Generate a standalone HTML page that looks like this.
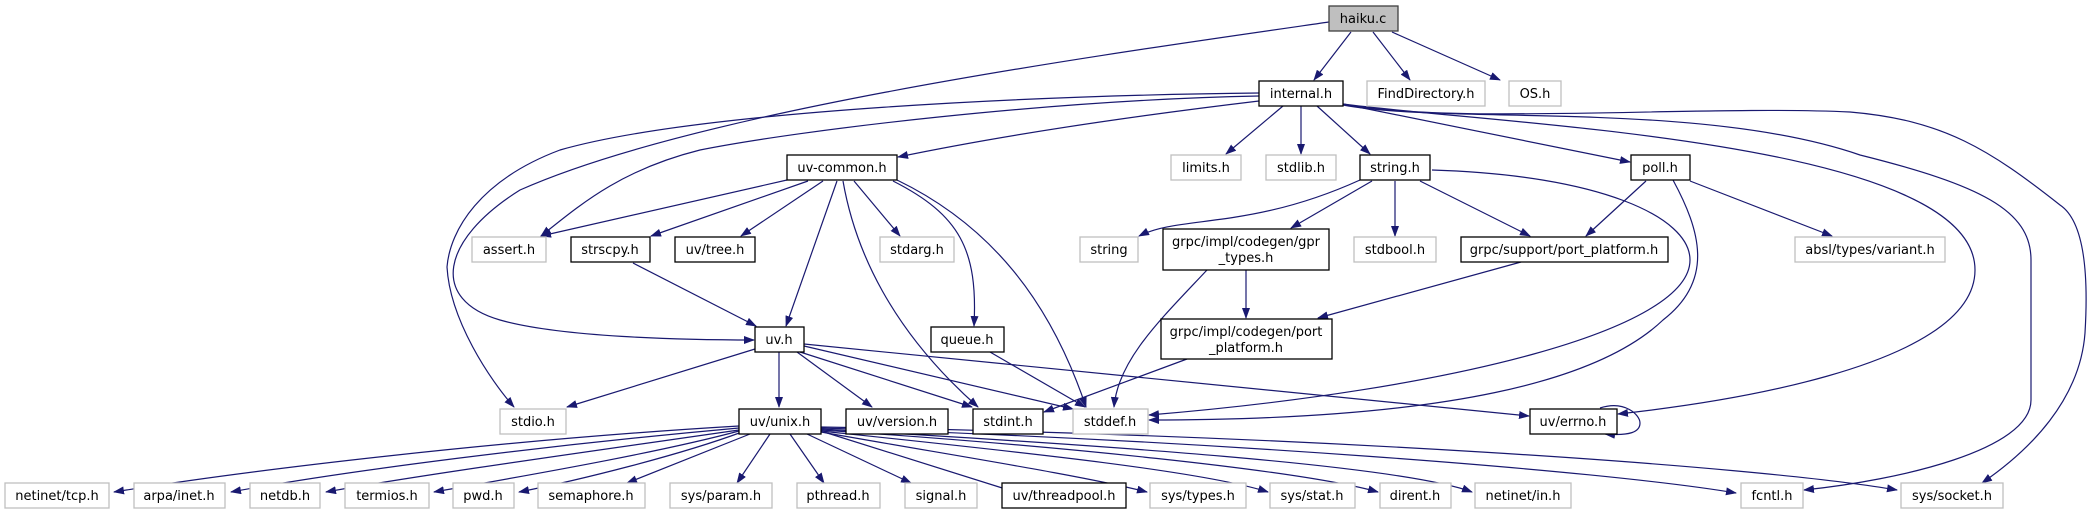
<!DOCTYPE html>
<html><head><meta charset="utf-8"><style>
html,body{margin:0;padding:0;background:#fff;}
svg{display:block;}
text{font-family:"DejaVu Sans","Liberation Sans",sans-serif;font-size:13px;fill:#000;text-anchor:middle;}
.e{fill:none;stroke:#191970;stroke-width:1.2;marker-end:url(#a);}
.g{fill:#fff;stroke:#bfbfbf;stroke-width:1.3;}
.b{fill:#fff;stroke:#000;stroke-width:1.3;}
</style></head><body>
<svg width="2091" height="515" viewBox="0 0 2091 515" xmlns="http://www.w3.org/2000/svg">
<defs><marker id="a" markerWidth="11" markerHeight="8" refX="10" refY="4" orient="auto" markerUnits="userSpaceOnUse"><path d="M0,0 L11,4 L0,8 z" fill="#191970"/></marker></defs>
<!-- edges -->
<path class="e" d="M1351,32 L1314,80"/>
<path class="e" d="M1373,32 L1410,80"/>
<path class="e" d="M1392,32 L1500,80"/>
<path class="e" d="M1329,22 C1100,55 700,110 520,190 C440,240 430,300 500,320 C560,337 680,340 754,340"/>
<path class="e" d="M1259,101 C1100,120 980,140 898,157"/>
<path class="e" d="M1259,96 C1050,100 800,130 700,150 C620,170 580,205 541,236"/>
<path class="e" d="M1259,93 C1050,95 700,110 560,150 C480,180 450,230 447,267 C450,320 490,380 514,407"/>
<path class="e" d="M1283,106 L1226,154"/>
<path class="e" d="M1301,106 L1301,154"/>
<path class="e" d="M1317,106 L1370,154"/>
<path class="e" d="M1343,104 L1630,162"/>
<path class="e" d="M1343,104 C1500,125 1975,140 1975,270 C1975,370 1700,405 1618,414"/>
<path class="e" d="M1343,105 C1450,125 1700,100 1860,155 C1980,185 2031,210 2031,260 L2031,400 C2031,450 1900,480 1804,490"/>
<path class="e" d="M1343,104 C1450,125 1700,105 1850,112 C1944,120 1990,150 2060,205 C2090,225 2087,300 2085,333 C2080,400 2030,450 1982,483"/>
<path class="e" d="M787,180 L541,236"/>
<path class="e" d="M808,181 L651,236"/>
<path class="e" d="M823,181 L741,236"/>
<path class="e" d="M854,181 L900,236"/>
<path class="e" d="M837,181 L786,326"/>
<path class="e" d="M843,181 C855,250 891,330 978,407"/>
<path class="e" d="M893,181 C960,215 978,250 974,326"/>
<path class="e" d="M897,180 C990,225 1050,300 1086,407"/>
<path class="e" d="M633,263 L756,326"/>
<path class="e" d="M755,349 L567,407"/>
<path class="e" d="M779,352 L779,407"/>
<path class="e" d="M797,352 L872,407"/>
<path class="e" d="M800,352 L972,407"/>
<path class="e" d="M804,346 L1073,409"/>
<path class="e" d="M804,344 L1529,416"/>
<path class="e" d="M990,352 L1085,407"/>
<path class="e" d="M1360,180 C1250,230 1180,215 1139,236"/>
<path class="e" d="M1372,181 L1291,228"/>
<path class="e" d="M1395,181 L1395,236"/>
<path class="e" d="M1420,181 L1530,236"/>
<path class="e" d="M1432,170 C1600,175 1690,217 1690,260 C1690,330 1450,390 1149,415"/>
<path class="e" d="M1646,181 L1586,236"/>
<path class="e" d="M1690,181 L1832,236"/>
<path class="e" d="M1673,180 C1700,230 1715,280 1663,320 C1600,380 1450,420 1149,420"/>
<path class="e" d="M1246,270 L1246,318"/>
<path class="e" d="M1207,270 C1160,320 1118,360 1114,407"/>
<path class="e" d="M1521,262 L1318,318"/>
<path class="e" d="M1187,359 L1044,412"/>
<path class="e" d="M1600,408 C1625,400 1640,415 1640,423 C1640,432 1630,436 1605,434"/>
<path class="e" d="M739,426 C500,440 250,470 114,492"/>
<path class="e" d="M739,428 C550,445 350,470 231,492"/>
<path class="e" d="M739,430 C600,450 420,475 326,492"/>
<path class="e" d="M739,431 C650,455 500,480 434,492"/>
<path class="e" d="M742,432 C680,455 580,480 519,492"/>
<path class="e" d="M750,434 L627,483"/>
<path class="e" d="M770,434 L737,483"/>
<path class="e" d="M790,434 L824,483"/>
<path class="e" d="M807,434 L911,483"/>
<path class="e" d="M824,432 L1015,492"/>
<path class="e" d="M821,432 C950,455 1080,475 1147,492"/>
<path class="e" d="M821,431 C1000,450 1200,470 1268,492"/>
<path class="e" d="M821,430 C1050,445 1300,470 1378,492"/>
<path class="e" d="M821,429 C1100,445 1400,465 1472,492"/>
<path class="e" d="M821,428 C1200,440 1600,470 1736,493"/>
<path class="e" d="M821,427 C1300,435 1750,465 1897,490"/>
<!-- nodes -->
<rect x="1329" y="6" width="69" height="25" fill="#bfbfbf" stroke="#404040" stroke-width="1.3"/><text x="1363" y="23">haiku.c</text>
<rect class="b" x="1259" y="81" width="84" height="25"/><text x="1301" y="98">internal.h</text>
<rect class="g" x="1367" y="81" width="118" height="25"/><text x="1426" y="98">FindDirectory.h</text>
<rect class="g" x="1509" y="81" width="52" height="25"/><text x="1535" y="98">OS.h</text>
<rect class="b" x="787" y="155" width="110" height="25"/><text x="842" y="172">uv-common.h</text>
<rect class="g" x="1171" y="155" width="70" height="25"/><text x="1206" y="172">limits.h</text>
<rect class="g" x="1266" y="155" width="70" height="25"/><text x="1301" y="172">stdlib.h</text>
<rect class="b" x="1360" y="155" width="70" height="25"/><text x="1395" y="172">string.h</text>
<rect class="b" x="1631" y="155" width="59" height="25"/><text x="1660" y="172">poll.h</text>
<rect class="g" x="472" y="237" width="74" height="25"/><text x="509" y="254">assert.h</text>
<rect class="b" x="571" y="237" width="79" height="25"/><text x="610" y="254">strscpy.h</text>
<rect class="b" x="675" y="237" width="80" height="25"/><text x="715" y="254">uv/tree.h</text>
<rect class="g" x="880" y="237" width="74" height="25"/><text x="917" y="254">stdarg.h</text>
<rect class="g" x="1080" y="237" width="58" height="25"/><text x="1109" y="254">string</text>
<rect class="b" x="1163" y="229" width="166" height="41"/><text x="1246" y="246">grpc/impl/codegen/gpr</text><text x="1246" y="262">_types.h</text>
<rect class="g" x="1354" y="237" width="82" height="25"/><text x="1395" y="254">stdbool.h</text>
<rect class="b" x="1461" y="237" width="207" height="25"/><text x="1564" y="254">grpc/support/port_platform.h</text>
<rect class="g" x="1795" y="237" width="150" height="25"/><text x="1870" y="254">absl/types/variant.h</text>
<rect class="b" x="755" y="327" width="49" height="25"/><text x="779" y="344">uv.h</text>
<rect class="b" x="931" y="327" width="73" height="25"/><text x="967" y="344">queue.h</text>
<rect class="b" x="1161" y="319" width="171" height="40"/><text x="1246" y="336">grpc/impl/codegen/port</text><text x="1246" y="352">_platform.h</text>
<rect class="g" x="500" y="409" width="66" height="25"/><text x="533" y="426">stdio.h</text>
<rect class="b" x="739" y="409" width="82" height="25"/><text x="780" y="426">uv/unix.h</text>
<rect class="b" x="846" y="409" width="102" height="25"/><text x="897" y="426">uv/version.h</text>
<rect class="b" x="973" y="409" width="70" height="25"/><text x="1008" y="426">stdint.h</text>
<rect class="g" x="1073" y="409" width="75" height="25"/><text x="1110" y="426">stddef.h</text>
<rect class="b" x="1530" y="409" width="87" height="25"/><text x="1573" y="426">uv/errno.h</text>
<rect class="g" x="5" y="483" width="104" height="25"/><text x="57" y="500">netinet/tcp.h</text>
<rect class="g" x="134" y="483" width="91" height="25"/><text x="179" y="500">arpa/inet.h</text>
<rect class="g" x="250" y="483" width="70" height="25"/><text x="285" y="500">netdb.h</text>
<rect class="g" x="345" y="483" width="84" height="25"/><text x="387" y="500">termios.h</text>
<rect class="g" x="453" y="483" width="61" height="25"/><text x="483" y="500">pwd.h</text>
<rect class="g" x="538" y="483" width="107" height="25"/><text x="591" y="500">semaphore.h</text>
<rect class="g" x="670" y="483" width="102" height="25"/><text x="721" y="500">sys/param.h</text>
<rect class="g" x="797" y="483" width="83" height="25"/><text x="838" y="500">pthread.h</text>
<rect class="g" x="905" y="483" width="72" height="25"/><text x="941" y="500">signal.h</text>
<rect class="b" x="1002" y="483" width="124" height="25"/><text x="1064" y="500">uv/threadpool.h</text>
<rect class="g" x="1150" y="483" width="96" height="25"/><text x="1198" y="500">sys/types.h</text>
<rect class="g" x="1270" y="483" width="85" height="25"/><text x="1312" y="500">sys/stat.h</text>
<rect class="g" x="1380" y="483" width="71" height="25"/><text x="1415" y="500">dirent.h</text>
<rect class="g" x="1475" y="483" width="96" height="25"/><text x="1523" y="500">netinet/in.h</text>
<rect class="g" x="1741" y="483" width="62" height="25"/><text x="1772" y="500">fcntl.h</text>
<rect class="g" x="1901" y="483" width="102" height="25"/><text x="1952" y="500">sys/socket.h</text>
</svg>
</body></html>
